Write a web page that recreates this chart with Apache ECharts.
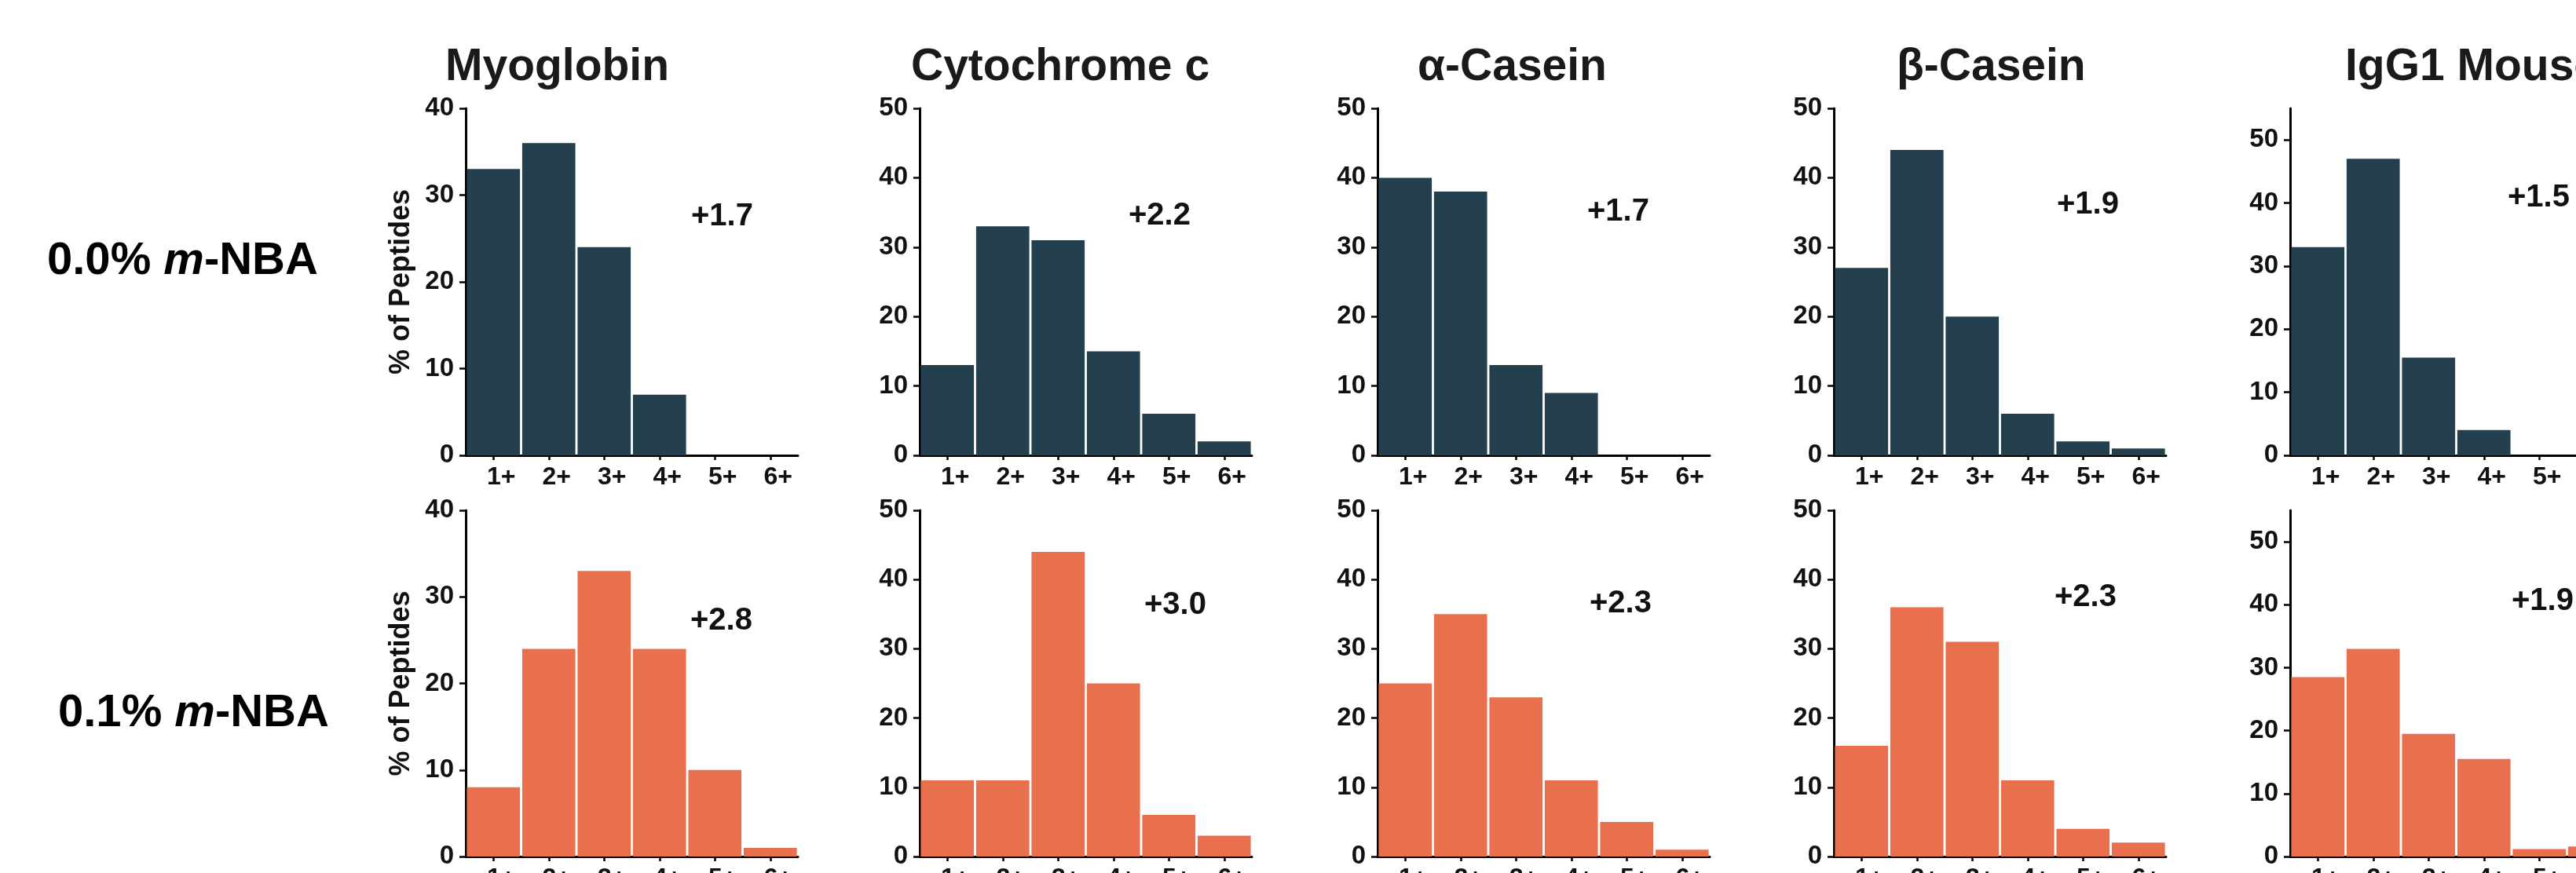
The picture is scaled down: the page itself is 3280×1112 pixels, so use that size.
<!DOCTYPE html>
<html><head><meta charset="utf-8">
<script src="https://cdn.jsdelivr.net/npm/echarts@6/dist/echarts.min.js"></script>
<style>html,body{margin:0;padding:0;background:#fff}#c{width:3280px;height:1112px}</style>
</head><body><div id="c"></div>
<script>
// ---------- DATA ----------
const categories = ['1+', '2+', '3+', '4+', '5+', '6+'];
const proteins = ['Myoglobin', 'Cytochrome c', 'α-Casein', 'β-Casein', 'IgG1 Mouse'];
const rowConc = ['0.0% ', '0.1% '];
const yMaxByProtein = [40, 50, 50, 50, 55];
const yTickValues = [0, 10, 20, 30, 40, 50];

// 0.0% m-NBA (% of peptides)
const myoglobin0 = [33, 36, 24, 7, 0, 0];
const cytochrome0 = [13, 33, 31, 15, 6, 2];
const alphaCasein0 = [40, 38, 13, 9, 0, 0];
const betaCasein0 = [27, 44, 20, 6, 2, 1];
const igg1Mouse0 = [33, 47, 15.5, 4, 0, 0];
// 0.1% m-NBA (% of peptides)
const myoglobin1 = [8, 24, 33, 24, 10, 1];
const cytochrome1 = [11, 11, 44, 25, 6, 3];
const alphaCasein1 = [25, 35, 23, 11, 5, 1];
const betaCasein1 = [16, 36, 31, 11, 4, 2];
const igg1Mouse1 = [28.5, 33, 19.5, 15.5, 1.2, 1.6];
// average charge state annotations
const avgCharge0 = ['+1.7', '+2.2', '+1.7', '+1.9', '+1.5'];
const avgCharge1 = ['+2.8', '+3.0', '+2.3', '+2.3', '+1.9'];

const rowsData = [
  [myoglobin0, cytochrome0, alphaCasein0, betaCasein0, igg1Mouse0],
  [myoglobin1, cytochrome1, alphaCasein1, betaCasein1, igg1Mouse1]
];
const rowsAvg = [avgCharge0, avgCharge1];

// ---------- LAYOUT / STYLE ----------
const FONT = '"Liberation Sans", Arial, Helvetica, sans-serif';
const barColors = ['#24404F', '#E8704F'];
const gridLeft = [593, 1171, 1754, 2335, 2916];
const gridWidth = 423;
const rowTop = [138, 650];
const rowHeight = [442, 441];
const titleLeft = [567, 1160, 1805, 2415, 2986];
const titleY = 86;
const annotPos = [
  [[880, 276], [1437, 275], [2021, 270], [2619, 261], [3193, 252]],
  [[879, 791], [1457, 771], [2024, 769], [2616, 761], [3198, 766]]
];
const rowLabelPos = [[60, 333], [74, 909]];

const grids = [], xAxes = [], yAxes = [], series = [], graphics = [];

rowsData.forEach((row, r) => {
  row.forEach((vals, i) => {
    const idx = r * 5 + i;
    grids.push({ left: gridLeft[i], top: rowTop[r], width: gridWidth, height: rowHeight[r],
                 containLabel: false, outerBoundsMode: 'none' });
    xAxes.push({
      type: 'category', gridIndex: idx, data: categories,
      axisLine: { show: true, lineStyle: { color: '#000', width: 3 } },
      axisTick: { show: true, alignWithLabel: true, length: 6, lineStyle: { color: '#000', width: 2.5 } },
      axisLabel: { fontSize: 32, fontWeight: 'bold', color: '#111', fontFamily: FONT, margin: 12, padding: [0, 0, 0, 20] },
      splitLine: { show: false }
    });
    const yLab = { fontSize: 33, fontWeight: 'bold', color: '#111', fontFamily: FONT, margin: 15 };
    const yTick = { show: true, length: 8, lineStyle: { color: '#000', width: 2.5 } };
    if (yMaxByProtein[i] % 10 !== 0) {
      yLab.customValues = yTickValues;
      yTick.customValues = yTickValues;
    }
    yAxes.push({
      type: 'value', gridIndex: idx, min: 0, max: yMaxByProtein[i], interval: 10,
      axisLine: { show: true, lineStyle: { color: '#000', width: 3 } },
      axisTick: yTick,
      axisLabel: yLab,
      splitLine: { show: false },
      name: i === 0 ? '% of Peptides' : '',
      nameLocation: 'middle', nameGap: 64,
      nameTextStyle: { fontSize: 36, fontWeight: 'bold', color: '#111', fontFamily: FONT }
    });
    series.push({
      type: 'bar', xAxisIndex: idx, yAxisIndex: idx, data: vals,
      barCategoryGap: '4%', silent: true,
      itemStyle: { color: barColors[r] }
    });
    graphics.push({
      type: 'text', left: annotPos[r][i][0], top: annotPos[r][i][1] - 20,
      style: { text: rowsAvg[r][i], font: 'bold 40px ' + FONT, fill: '#111', verticalAlign: 'top' }
    });
  });
  graphics.push({
    type: 'text', x: rowLabelPos[r][0], y: rowLabelPos[r][1],
    style: {
      text: '{a|' + rowConc[r] + '}{b|m}{a|-NBA}',
      verticalAlign: 'middle', align: 'left',
      rich: {
        a: { fontSize: 58, fontWeight: 'bold', fontFamily: FONT, color: '#1a1a1a' },
        b: { fontSize: 58, fontWeight: 'bold', fontStyle: 'italic', fontFamily: FONT, color: '#1a1a1a' }
      }
    }
  });
});

proteins.forEach((p, i) => {
  graphics.push({
    type: 'text', x: titleLeft[i], y: titleY,
    style: { text: p, font: 'bold 57px ' + FONT, fill: '#1a1a1a', verticalAlign: 'middle', align: 'left' }
  });
});

const chart = echarts.init(document.getElementById('c'), null, { renderer: 'canvas' });
chart.setOption({
  animation: false,
  backgroundColor: '#fff',
  grid: grids, xAxis: xAxes, yAxis: yAxes, series: series,
  graphic: graphics
});
</script></body></html>
